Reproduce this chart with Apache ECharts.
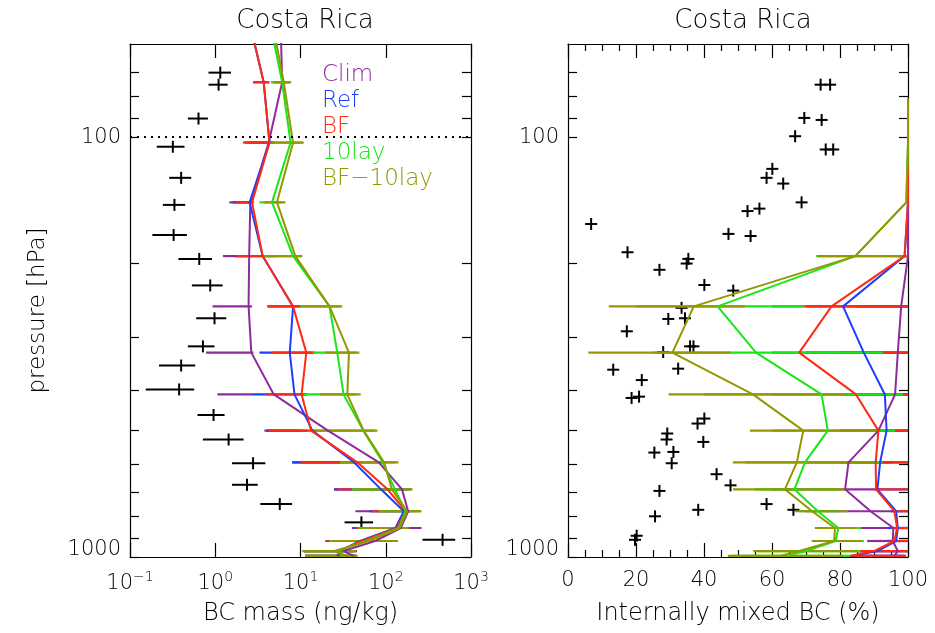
<!DOCTYPE html>
<html><head><meta charset="utf-8">
<script src="https://cdn.jsdelivr.net/npm/echarts@6/dist/echarts.min.js"></script>
<style>html,body{margin:0;padding:0;background:#fff}#c{width:935px;height:633px}</style>
</head><body><div id="c"></div>
<script>
// ---------------- data ----------------
const seriesNames = ['Clim', 'Ref', 'BF', '10lay', 'BF\u221210lay'];

// Left panel: BC mass (ng/kg) at model pressure levels (hPa); first level lies above the plot top
const levels = [50, 74, 103, 143, 192, 253, 326, 410, 500, 595, 690, 778, 853, 916, 968, 994];
const climMass  = [5.8, 6.09, 4.24, 2.58, 2.5, 2.46, 2.65, 4.86, 21, 83, 155, 183, 150, 75, 32, 42];
const refMass   = [2.35, 3.70, 4.33, 2.53, 3.6, 8.18, 7.48, 8.5, 13.8, 42.4, 88, 163, 130, 50, 29, 27];
const bfMass    = [2.35, 3.70, 4.33, 2.70, 3.6, 8.18, 11.7, 10.3, 13.3, 46.4, 105, 171, 135, 52, 28, 29];
const lay10Mass = [4.12, 6.09, 7.65, 4.63, 8.18, 21.9, 27, 32, 54.6, 92, 128, 171, 142, 60, 27, 32];
const bf10Mass  = [4.4, 6.37, 8.18, 5.3, 8.7, 21.9, 37, 35.4, 55, 95.5, 118, 178, 145, 63, 25, 35];

const climLo  = [null, 4.8, 2.5, 1.46, 1.23, 0.93, 0.78, 1.06, 3.77, 8, 24.7, 44, 40, 19.5, 11, 11.4];
const climHi  = [null, 7.5, 5, 2.8, 2.6, 2.7, 2.8, 2.7, 10, 100, 200, 200, 263, 138, 46, 46.5];
const refLo   = [null, 2.8, 2.2, 1.6, 1.7, 4.2, 3.3, 2.7, 4.0, 7.98, 25, 64, 42.4, 20, 11, 11.4];
const refHi   = [null, 4.3, 4.8, 2.8, 3.8, 10, 14, 12, 12, 30, 180, 190, 180, 120, 42, 44];
const bfLo    = [null, 2.78, 2.12, 1.73, 1.77, 4.05, 4.6, 4.0, 4.2, 10, 26.8, 68, 44, 20, 11, 11.4];
const bfHi    = [null, 4.31, 4.5, 2.8, 5, 11, 15, 11.7, 13.1, 29.4, 60, 250, 185, 125, 43, 45];
const lay10Lo = [null, 4.5, 4.5, 3.3, 4, 10, 14, 11, 13, 29, 40, 83, 48, 22, 11, 11.4];
const lay10Hi = [null, 7.5, 10.5, 6.0, 10, 29, 45, 45, 75, 130, 195, 255, 186, 130, 44, 45];
const bf10Lo  = [null, 4.78, 4.1, 3.7, 3.7, 11, 19.5, 16.8, 13.1, 29.4, 46, 83, 50.8, 23.4, 10.5, 11.4];
const bf10Hi  = [null, 7.78, 10.9, 6.66, 10.5, 30.9, 49, 50.8, 79.8, 141, 206, 263, 189, 137, 45, 46];

// Left panel observations: pressure, BC mass, range
const obsP    = [70.2, 75, 90.3, 105.4, 125, 145, 171, 195, 225.5, 270, 315, 350, 399, 459, 525, 598, 673, 748, 827, 910];
const obsMass = [1.145, 1.094, 0.636, 0.318, 0.398, 0.332, 0.325, 0.649, 0.873, 0.98, 0.717, 0.398, 0.377, 0.955, 1.434, 2.777, 2.359, 5.71, 51.8, 464];
const obsLo   = [0.834, 0.834, 0.477, 0.206, 0.288, 0.243, 0.183, 0.37, 0.532, 0.598, 0.477, 0.219, 0.153, 0.619, 0.717, 1.573, 1.573, 3.38, 32.9, 270];
const obsHi   = [1.53, 1.397, 0.82, 0.436, 0.523, 0.444, 0.465, 0.914, 1.22, 1.346, 0.98, 0.582, 0.566, 1.286, 2.15, 3.87, 3.15, 7.98, 71, 653];

// Right panel: internally mixed BC (%)
const levelsR   = [81, 103, 143, 192, 253, 326, 410, 500, 595, 690, 778, 853, 916, 968, 994];
const climFrac  = [100, 100, 100, 100, 98, 97, 96.2, 91.3, 82.5, 81.5, 89, 95.7, 95.5, 97, 96];
const refFrac   = [100, 100, 100, 99, 80.9, 87, 93.2, 93.7, 91.8, 91, 96.5, 97, 96.5, 91, 83.5];
const bfFrac    = [100, 100, 100, 99, 77.5, 68, 84.7, 91.3, 90.5, 90.6, 96, 96.8, 96, 90, 83];
const lay10Frac = [100, 100, 99.5, 84.5, 44, 55.3, 74.6, 76.4, 69.7, 66.6, 73.5, 79.5, 78.7, 70, 64.3];
const bf10Frac  = [100, 100, 99.5, 84.5, 37, 30.7, 54.4, 69.2, 67.3, 63.8, 71.8, 78.5, 78.3, 68, 62.4];

const climLoR  = [null, null, null, 99, 85, 80, 85, 80, 70, 60, 70, 85, 88, 86, 85];
const climHiR  = [null, null, null, 100, 100, 100, 100, 100, 95, 90.3, 96.4, 95, 95, 100, 99];
const refLoR   = [null, null, null, 97, 70, 70, 80, 85, 85, 90.3, 95, 94, 94, 85, 84];
const refHiR   = [null, null, null, 100, 100, 100, 100, 100, 100, 100, 100, 100, 100, 100, 99];
const bfLoR    = [null, null, null, 97, 60, 60, 60, 80, 80, 90, 96, 95, 94.5, 85, 83];
const bfHiR    = [null, null, null, 100, 100, 100, 100, 100, 100, 100, 100, 100, 100, 100, 99.5];
const lay10LoR = [null, null, null, 73, 20, 25, 40, 60, 52, 55, 68, 74, 72, 56, 48];
const lay10HiR = [null, null, null, 100, 69.4, 92.6, 98.5, 96.2, 92.5, 80, 80, 86.2, 87, 86, 83];
const bf10LoR  = [null, null, null, 73.4, 12, 6, 29.6, 53.5, 48.5, 48.5, 66.8, 72.6, 71.7, 54.5, 47];
const bf10HiR  = [null, null, null, 100, 52, 47.8, 81.7, 91.3, 89.8, 82, 82.4, 85, 86.4, 85, 81];

// Right panel observations
const obsFrac  = [74.3, 77.1, 69.5, 74.6, 66.8, 75.8, 78, 60.1, 58.4, 63.3, 68.7, 52.8, 56.3, 6.8, 47.2, 53.7, 17.5, 35.4, 34.9, 26.9, 40.1, 48.6, 33.4, 29.5, 34.4, 17.3, 35.9, 36.9, 28, 13.3, 32.4, 21.7, 18.7, 20.9, 38.1, 40.1, 29.2, 29, 39.8, 25.4, 31, 30.5, 43.7, 47.8, 26.9, 58.4, 66.3, 38.3, 25.6, 20.2, 19.7];
const obsFracP = [75, 75, 90, 91, 99.5, 107, 107, 119, 125, 129, 143, 150, 148, 161, 170, 172, 188, 195, 200, 207, 225, 232, 255, 271, 270, 290, 315, 315, 325, 358, 356, 379, 418, 415, 481, 468, 508, 525, 532, 564, 562, 598, 635, 675, 696, 748, 772, 772, 800, 890, 910];

// axis ticks
const pTicks = [70, 80, 90, 100, 200, 300, 400, 500, 600, 700, 800, 900, 1000];
const pLabels = [100, 1000];
const massTicks = [0.1, 1, 10, 100, 1000];

// ---------------- chart ----------------
const FONT = 'DejaVu Sans';
const FW = 200;
const colors = ['#8f2a9f', '#1f3dff', '#ff2a12', '#19e619', '#939800'];
const chart = echarts.init(document.getElementById('c'));

const axisLineStyle = { show: true, onZero: false, lineStyle: { color: '#000', width: 1.2 } };
function yAx(grid, pos, labels, name) {
  return {
    gridIndex: grid, type: 'log', logBase: 10, inverse: true, min: 60, max: 1000, position: pos,
    axisLine: axisLineStyle, splitLine: { show: false },
    axisTick: { show: true, inside: true, length: 9, customValues: pTicks, lineStyle: { color: '#000', width: 1.2 } },
    axisLabel: {
      show: labels, customValues: pLabels, color: '#000', fontSize: 21, fontFamily: FONT, fontWeight: FW, margin: 9,
      formatter: v => (v >= 1000 ? '{u|' + String(Math.round(v)) + '}' : String(Math.round(v))),
      rich: { u: { fontSize: 21, fontFamily: FONT, fontWeight: FW, color: '#000', padding: [0, 0, 14, 0] } }
    },
    name: name || '', nameLocation: 'middle', nameGap: 80, nameRotate: 90,
    nameTextStyle: { color: '#000', fontSize: 23, fontFamily: FONT, fontWeight: FW, padding: [0, 20, 0, 0] }
  };
}
function xMass(pos, labels) {
  return {
    gridIndex: 0, type: 'log', logBase: 10, min: 0.1, max: 1000, position: pos,
    axisLine: axisLineStyle, splitLine: { show: false },
    axisTick: { show: true, inside: true, length: 14, customValues: massTicks, lineStyle: { color: '#000', width: 1.2 } },
    axisLabel: {
      show: labels, customValues: massTicks, color: '#000', fontSize: 21, fontFamily: FONT, fontWeight: FW, margin: 13,
      formatter: v => { const e = Math.round(Math.log10(v)); return '10{s|' + (e < 0 ? '\u2212' + (-e) : e) + '}'; },
      rich: { s: { fontSize: 14, fontFamily: FONT, fontWeight: FW, color: '#000', padding: [0, 0, 14, 0] } }
    },
    name: labels ? 'BC mass (ng/kg)' : '', nameLocation: 'middle', nameGap: 45,
    nameTextStyle: { color: '#000', fontSize: 24, fontFamily: FONT, fontWeight: FW }
  };
}
function xFrac(pos, labels) {
  return {
    gridIndex: 1, type: 'value', min: 0, max: 100, interval: 20, position: pos,
    axisLine: axisLineStyle, splitLine: { show: false },
    axisTick: { show: true, inside: true, length: 14, lineStyle: { color: '#000', width: 1.2 } },
    minorTick: { show: true, splitNumber: 4, length: 7, lineStyle: { color: '#000', width: 1.2 } },
    axisLabel: { show: labels, color: '#000', fontSize: 21, fontFamily: FONT, fontWeight: FW, margin: 13 },
    name: labels ? 'Internally mixed BC (%)' : '', nameLocation: 'middle', nameGap: 45,
    nameTextStyle: { color: '#000', fontSize: 24, fontFamily: FONT, fontWeight: FW }
  };
}

function lineSeries(name, xs, lv, color, xi, yi) {
  return {
    type: 'line', name, xAxisIndex: xi, yAxisIndex: yi,
    data: lv.map((p, i) => [xs[i], p]),
    showSymbol: false, symbol: 'none', clip: true, animation: false,
    lineStyle: { color, width: 2 }, itemStyle: { color }
  };
}
function barSeries(name, lo, hi, lv, color, xi, yi) {
  const data = [];
  lv.forEach((p, i) => { if (lo[i] != null) data.push([lo[i], hi[i], p]); });
  return {
    type: 'custom', name, xAxisIndex: xi, yAxisIndex: yi, data, animation: false,
    itemStyle: { color }, encode: { x: [0, 1], y: 2 },
    renderItem(params, api) {
      const a = api.coord([api.value(0), api.value(2)]);
      const b = api.coord([api.value(1), api.value(2)]);
      const cs = params.coordSys;
      const x1 = Math.max(cs.x, Math.min(a[0], b[0]));
      const x2 = Math.min(cs.x + cs.width, Math.max(a[0], b[0]));
      return { type: 'line', shape: { x1, y1: a[1], x2, y2: a[1] }, style: { stroke: color, lineWidth: 2.2 } };
    }
  };
}

const massSets = [[climMass, climLo, climHi], [refMass, refLo, refHi], [bfMass, bfLo, bfHi], [lay10Mass, lay10Lo, lay10Hi], [bf10Mass, bf10Lo, bf10Hi]];
const fracSets = [[climFrac, climLoR, climHiR], [refFrac, refLoR, refHiR], [bfFrac, bfLoR, bfHiR], [lay10Frac, lay10LoR, lay10HiR], [bf10Frac, bf10LoR, bf10HiR]];

const series = [];
// left observations
series.push({
  type: 'custom', name: 'obsMass', xAxisIndex: 0, yAxisIndex: 0, animation: false,
  data: obsP.map((p, i) => [obsMass[i], obsLo[i], obsHi[i], p]), encode: { x: [0, 1, 2], y: 3 },
  renderItem(params, api) {
    const c = api.coord([api.value(0), api.value(3)]);
    const l = api.coord([api.value(1), api.value(3)]);
    const h = api.coord([api.value(2), api.value(3)]);
    const st = { stroke: '#000', lineWidth: 2 };
    return { type: 'group', children: [
      { type: 'line', shape: { x1: l[0], y1: c[1], x2: h[0], y2: c[1] }, style: st },
      { type: 'line', shape: { x1: c[0], y1: c[1] - 6, x2: c[0], y2: c[1] + 6 }, style: st }
    ] };
  },
  markLine: {
    symbol: 'none', silent: true, label: { show: false }, animation: false,
    lineStyle: { color: '#000', width: 2, type: [2, 5] }, data: [{ yAxis: 100 }]
  }
});
// right observations
series.push({
  type: 'custom', name: 'obsFrac', xAxisIndex: 2, yAxisIndex: 2, animation: false,
  data: obsFracP.map((p, i) => [obsFrac[i], p]), encode: { x: 0, y: 1 },
  renderItem(params, api) {
    const c = api.coord([api.value(0), api.value(1)]);
    const st = { stroke: '#000', lineWidth: 2 };
    return { type: 'group', children: [
      { type: 'line', shape: { x1: c[0] - 6, y1: c[1], x2: c[0] + 6, y2: c[1] }, style: st },
      { type: 'line', shape: { x1: c[0], y1: c[1] - 6, x2: c[0], y2: c[1] + 6 }, style: st }
    ] };
  }
});
seriesNames.forEach((n, k) => {
  const [m, lo, hi] = massSets[k];
  series.push(lineSeries(n, m, levels, colors[k], 0, 0));
  series.push(barSeries(n, lo, hi, levels, colors[k], 0, 0));
});
seriesNames.forEach((n, k) => {
  const [f, lo, hi] = fracSets[k];
  series.push(lineSeries(n, f, levelsR, colors[k], 2, 2));
  series.push(barSeries(n, lo, hi, levelsR, colors[k], 2, 2));
});

chart.setOption({
  animation: false,
  backgroundColor: '#fff',
  title: [
    { text: 'Costa Rica', left: 300, top: 3, textAlign: 'center', textStyle: { color: '#000', fontSize: 26, fontFamily: FONT, fontWeight: FW } },
    { text: 'Costa Rica', left: 738, top: 3, textAlign: 'center', textStyle: { color: '#000', fontSize: 26, fontFamily: FONT, fontWeight: FW } }
  ],
  legend: {
    orient: 'vertical', left: 312, top: 59, itemWidth: 0, itemHeight: 0, itemGap: 3,
    selectedMode: false, icon: 'rect',
    data: seriesNames.map((n, i) => ({ name: n, textStyle: { color: colors[i] } })),
    textStyle: { fontSize: 23, fontFamily: FONT, fontWeight: FW }
  },
  grid: [
    { left: 130, top: 44, width: 341, height: 513 },
    { left: 568, top: 44, width: 340, height: 513 }
  ],
  xAxis: [xMass('bottom', true), xMass('top', false), xFrac('bottom', true), xFrac('top', false)],
  yAxis: [
    yAx(0, 'left', true, 'pressure [hPa]'), yAx(0, 'right', false),
    yAx(1, 'left', true), yAx(1, 'right', false)
  ],
  series
});
</script></body></html>
